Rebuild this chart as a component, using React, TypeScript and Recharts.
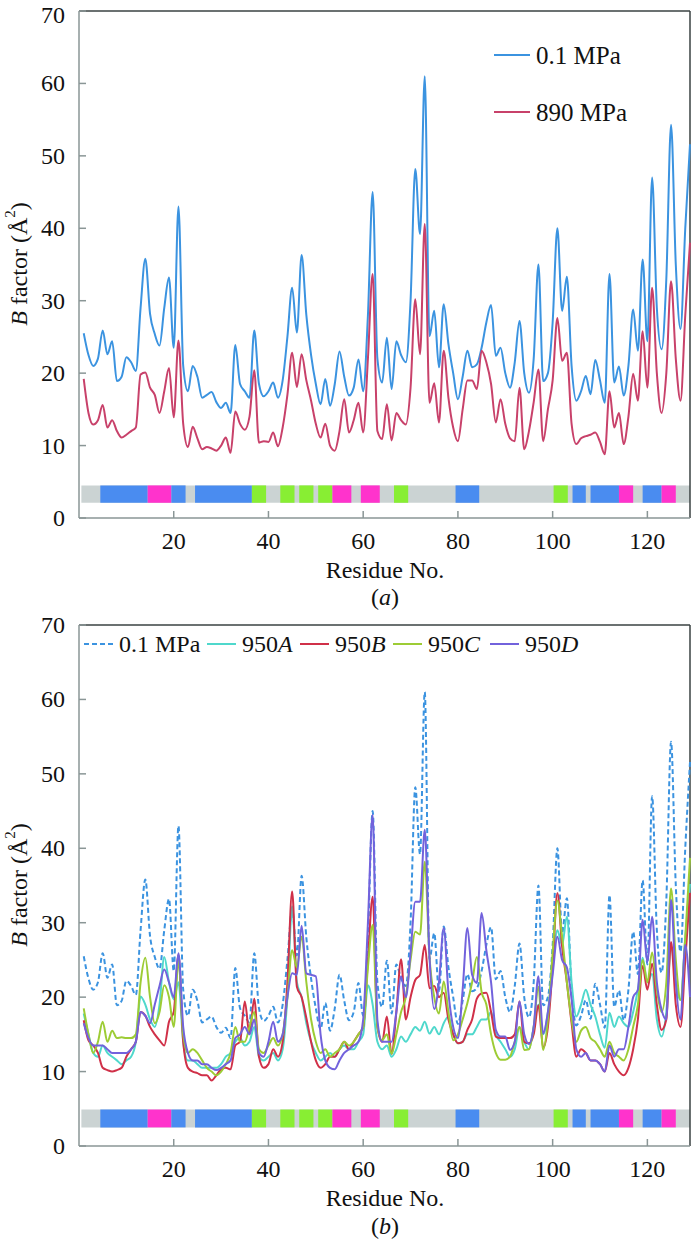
import React from 'react'
import { LineChart, Line, XAxis, YAxis, ReferenceArea, ReferenceLine } from 'recharts'

const FONT = '"Liberation Serif", "Times New Roman", serif'

// B factors per residue 1..129
const bAmbient = [
  25.5, 22.5, 21, 22, 25.9, 22.6, 24.4, 18.9, 19.5, 22.2,
  21.5, 20.3, 29, 35.8, 28.2, 25.4, 23.8, 29, 33.2, 23.5,
  43, 21, 17.5, 21, 19.5, 16.6, 17, 17.4, 16, 15.2,
  15.9, 14.5, 23.9, 18.5, 17.5, 16.6, 25.9, 18.5, 16.8, 17.5,
  18.7, 16.6, 19, 25, 31.8, 25.6, 36.3, 28, 22.5, 18.5,
  15.7, 19.2, 15.5, 18.5, 23, 19.5, 16.9, 18, 21.9, 17.5,
  28, 45, 22, 18.7, 24.9, 17.8, 24.4, 22.5, 21.5, 30,
  48.2, 39.2, 61, 25.1, 28.6, 20.8, 29.5, 24, 20, 16.4,
  19.5, 23.1, 20.8, 21.2, 23.5, 27, 29.4, 22.4, 23.5, 20,
  18, 21.5, 27.2, 20, 17.3, 22, 35, 18.9, 20, 27,
  40, 28.6, 33.3, 21, 16.2, 17.5, 19.6, 17.1, 21.8, 19,
  15.9, 33.7, 18.7, 20.9, 16.9, 21, 28.8, 23.1, 35.7, 24.4,
  47, 29, 23.3, 33, 54.3, 35, 26.1, 40, 51.6,
]

const b890 = [
  19.2, 14.5, 12.9, 13.5, 15.6, 12.5, 13.5, 12, 11.1, 11.5,
  12, 12.5, 19.8, 20.1, 18, 17, 14.5, 17.5, 20.7, 13.9,
  24.5, 13, 9.8, 12.6, 11, 9.5, 9.8, 9.6, 9.3, 10,
  11.1, 9, 14.7, 13, 12.2, 14, 20.4, 10.4, 10.6, 10.5,
  11.8, 9.9, 12.5, 17, 22.8, 18.1, 22.6, 19, 16.2, 13,
  11.1, 13, 10, 9.3, 12, 16.4, 11.8, 13.5, 15.9, 11.8,
  22, 33.7, 12, 10.9, 15.7, 10.7, 14.5, 13.5, 12.9, 18,
  30.2, 22.6, 40.6, 15.9, 18.6, 13.2, 23.1, 16.6, 12.5, 10.6,
  15, 19, 19, 17.8, 23.1, 21.5, 18.5, 13.2, 16.4, 13,
  11, 10.6, 18, 9.5, 12, 16, 20.5, 10.6, 15, 19,
  27.6, 21.7, 22.8, 13, 10.2, 11, 11.3, 11.5, 11.8, 10.5,
  8.8, 17.5, 12.5, 14.5, 10.2, 14, 19.9, 16.2, 25.8, 18,
  31.8, 20, 14.5, 20, 32.7, 22, 16.2, 28, 38,
]

const b950A = [
  17.8, 15, 12.5, 12, 13.5, 12.5, 12, 11.5, 11, 11.5,
  12, 14, 20.1, 19, 17, 16, 19, 25.4, 22, 19.7,
  22, 14, 11.5, 11.5, 11, 10.5, 10.5, 10.5, 10.5, 11,
  12, 12.5, 14, 14.5, 13.5, 14, 16, 12, 11.5, 12,
  12.5, 11.5, 13, 20, 32.2, 22, 20, 16.5, 14, 12.5,
  11.5, 12, 12.5, 12, 13, 13.5, 13, 13, 14, 15,
  21.6, 19, 14, 13, 13.5, 12, 13, 14.7, 14, 15,
  16, 15.5, 16.7, 15.1, 16, 15, 16.5, 17.4, 15, 13.8,
  14, 15, 15, 16, 17, 17, 18, 15, 14, 13,
  12, 13, 16, 14, 13, 16, 19, 15, 18, 24,
  29, 27, 30.8, 22, 17.4, 19, 21, 19, 17.4, 15,
  13.2, 17.9, 16, 17.4, 16.5, 16, 18, 21, 25.3, 22,
  23.1, 17, 14.7, 18, 26.8, 22, 19.6, 28, 35.2,
]

const b950B = [
  16.9, 14.2, 13.5, 12.5, 10.5, 10.2, 10, 10.2, 10.5, 12,
  13, 14, 18, 17.5, 16, 15, 14.2, 13.5, 16.7, 18,
  25.7, 14, 10.5, 10, 9.8, 9.5, 9.5, 8.8, 9.5, 10.3,
  10.5, 10.3, 13.5, 14, 19.4, 15, 19.8, 12, 10.5, 11,
  13, 12, 14, 22, 34.2, 21.4, 20, 17.2, 14, 11.5,
  10.5, 11, 12, 12, 13, 14, 13, 14, 15, 16,
  25, 33.5, 16, 14, 17.4, 12.4, 18, 25.1, 17, 20,
  22.3, 23, 27, 21.2, 21.5, 20, 20.6, 17, 15, 13.8,
  14, 15.6, 17, 19.8, 20.5, 20.6, 18, 14.7, 14.5, 14.5,
  14.5, 15, 19.4, 14, 13.8, 15, 18.9, 13.2, 16, 24,
  34, 26.8, 22, 16.5, 12, 13, 12.5, 11.5, 11.5, 11,
  10, 12.5, 11, 10, 9.5, 10.5, 13, 17, 24.2, 21,
  24.5, 19, 15.6, 17, 27.4, 19, 16, 25, 34,
]

const b950C = [
  18.5, 15, 12.5, 14, 16.7, 14, 15.5, 14.5, 14.6, 14.5,
  14.5, 15, 22, 25.3, 20, 16.5, 18, 21.6, 20, 16,
  25, 15, 12.5, 13, 12.5, 11.5, 10.5, 10, 9.5, 10,
  11, 12.5, 16, 14, 14, 16, 18, 13, 12.5, 13.5,
  14.5, 13.5, 15, 20, 26.3, 24, 28.1, 22, 17, 14,
  12.5, 13, 12, 12.5, 13, 14, 13.5, 14, 15, 16,
  24, 29.7, 16, 14.2, 15, 12.4, 15, 18, 20, 25,
  28.8, 28.4, 38.2, 25.4, 20, 17.8, 22.1, 18, 14.2, 15,
  17, 19.2, 22, 25.4, 20.7, 19, 15, 12.5, 11.6, 11.6,
  12, 14, 16, 12.9, 13, 16, 21.4, 12.9, 17, 26,
  33, 28.1, 22, 17, 14, 15.5, 16, 14.5, 14, 13,
  12, 14, 12.5, 12, 11.5, 13, 16, 19, 25, 22,
  26, 21, 18, 22, 34.6, 25, 19.6, 28, 38.7,
]

const b950D = [
  16.5, 14.5, 13.5, 13.5, 13.5, 13, 12.5, 12.5, 12.5, 12.5,
  13, 14, 18, 17.5, 16.5, 19, 21.5, 23.7, 22, 20,
  25.9, 16, 12.5, 11.5, 11.5, 11, 11, 10.5, 10.2, 10.5,
  11, 11.5, 14.5, 15, 16, 15, 17, 12.5, 12, 14,
  16.7, 14, 15, 20, 23.2, 23, 29.6, 23.2, 23, 22.8,
  15, 11.5, 10.5, 10.3, 11.5, 12.5, 13, 13.5, 14, 17,
  30, 44.5, 16.9, 14, 14, 14, 18, 22.8, 20, 26,
  32.8, 32.8, 42.5, 25.4, 18.4, 22, 29.3, 20.6, 16, 14.5,
  21, 29.3, 23, 21.9, 31.3, 26.3, 22, 15.6, 14.7, 14.7,
  12.9, 14, 19.4, 15, 13.7, 16, 22.8, 15.1, 18, 23,
  28.1, 25, 24, 19.7, 13, 12, 12.5, 11.5, 11.5, 11,
  10, 13.5, 12, 13, 13, 16, 20, 21, 30.4, 24.7,
  30.8, 22, 18.3, 17, 33.1, 22, 17, 27, 20,
]

const xTicks = [20, 40, 60, 80, 100, 120]
const yTicks = [0, 10, 20, 30, 40, 50, 60, 70]

// secondary structure strip: [from residue, to residue, kind]
const ssSegments: [number, number, string][] = [
  [4.5, 14.5, 'alpha'],
  [14.5, 19.5, 'three10'],
  [19.5, 22.5, 'alpha'],
  [24.5, 36.5, 'alpha'],
  [36.5, 39.5, 'beta'],
  [42.5, 45.5, 'beta'],
  [46.5, 49.5, 'beta'],
  [50.5, 53.5, 'beta'],
  [53.5, 57.5, 'three10'],
  [59.5, 63.5, 'three10'],
  [66.5, 69.5, 'beta'],
  [79.5, 84.5, 'alpha'],
  [100.2, 103.2, 'beta'],
  [104.2, 107, 'alpha'],
  [108, 114, 'alpha'],
  [114, 117, 'three10'],
  [119, 123, 'alpha'],
  [123, 126, 'three10'],
]
const ssColors: Record<string, string> = { alpha: '#4a8cf0', three10: '#ff33cc', beta: '#88ee33' }

const residues = bAmbient.map((_, i) => i + 1)
const dataA = residues.map((r, i) => ({ res: r, p01: bAmbient[i], p890: b890[i] }))
const dataB = residues.map((r, i) => ({
  res: r, p01: bAmbient[i], a: b950A[i], b: b950B[i], c: b950C[i], d: b950D[i],
}))

type Series = { key: string; label: string; suffix?: string; color: string; dash?: string }

const BLUE = '#3b93e0'
const seriesA: Series[] = [
  { key: 'p01', label: '0.1 MPa', color: BLUE },
  { key: 'p890', label: '890 MPa', color: '#c8416a' },
]
const seriesB: Series[] = [
  { key: 'p01', label: '0.1 MPa', color: BLUE, dash: '5 3' },
  { key: 'a', label: '950', suffix: 'A', color: '#4fd8cc' },
  { key: 'b', label: '950', suffix: 'B', color: '#d03048' },
  { key: 'c', label: '950', suffix: 'C', color: '#9dcc35' },
  { key: 'd', label: '950', suffix: 'D', color: '#7262dc' },
]

const axisGray = '#8a9696'
const frameDark = '#3a4242'
const tickFont = { fill: '#111', fontSize: 24, fontFamily: FONT }

// keep the top label (70) of panel a inside the page
const YTick = (p: any) => (
  <text x={p.x} y={Math.max(p.y, 13)} textAnchor='end' dominantBaseline='central'
    fontSize={24} fontFamily={FONT} fill='#111'>
    {p.payload.value}
  </text>
)

function Panel({ data, series, top, height, margin, band }: {
  data: any[]; series: Series[]; top: number; height: number
  margin: { top: number; right: number; bottom: number; left: number }; band: [number, number]
}) {
  return (
    <div style={{ position: 'absolute', left: 0, top }}>
      <LineChart width={692} height={height} data={data} margin={margin}>
        <XAxis dataKey='res' type='number' domain={[0, 129]} ticks={xTicks} interval={0} height={30}
          axisLine={{ stroke: axisGray, strokeWidth: 1.5 }} tickLine={{ stroke: axisGray, strokeWidth: 1.5 }}
          tickSize={-7} tickMargin={21} tick={tickFont} />
        <YAxis type='number' domain={[0, 70]} ticks={yTicks} interval={0} width={79}
          axisLine={{ stroke: axisGray, strokeWidth: 1.5 }} tickLine={{ stroke: axisGray, strokeWidth: 1.5 }}
          tickSize={-7} tickMargin={21} tick={YTick} />
        <ReferenceLine y={70} stroke={frameDark} strokeWidth={1.5} />
        <ReferenceLine x={129} stroke={frameDark} strokeWidth={1.5} />
        <ReferenceArea x1={0.5} x2={129} y1={band[0]} y2={band[1]} fill='#cbd3d3' fillOpacity={1} stroke='none' />
        {ssSegments.map(([from, to, kind], i) => (
          <ReferenceArea key={i} x1={from} x2={to} y1={band[0]} y2={band[1]}
            fill={ssColors[kind]} fillOpacity={1} stroke='none' />
        ))}
        {series.map(s => (
          <Line key={s.key} dataKey={s.key} type='monotone' stroke={s.color} strokeWidth={2}
            strokeDasharray={s.dash} dot={false} activeDot={false} isAnimationActive={false} />
        ))}
      </LineChart>
    </div>
  )
}

function LegendItem({ s, x, y, len, size }: { s: Series; x: number; y: number; len: number; size: number }) {
  return (
    <g>
      <line x1={x} x2={x + len} y1={y} y2={y} stroke={s.color} strokeWidth={2} strokeDasharray={s.dash} />
      <text x={x + len + 6} y={y} dominantBaseline='central' fontSize={size} fontFamily={FONT} fill='#111'>
        {s.label}
        {s.suffix && <tspan fontStyle='italic'>{s.suffix}</tspan>}
      </text>
    </g>
  )
}

function YTitle({ cx, cy }: { cx: number; cy: number }) {
  return (
    <text x={cx} y={cy} transform={`rotate(-90 ${cx} ${cy})`} textAnchor='middle' dominantBaseline='central'
      fontSize={24} fontFamily={FONT} fill='#111'>
      <tspan fontStyle='italic'>B</tspan> factor (Å<tspan dy={-9} fontSize={15}>2</tspan><tspan dy={9}>)</tspan>
    </text>
  )
}

function Caption({ cx, cy, letter }: { cx: number; cy: number; letter: string }) {
  return (
    <text x={cx} y={cy} textAnchor='middle' dominantBaseline='central' fontSize={24} fontFamily={FONT} fill='#111'>
      (<tspan fontStyle='italic'>{letter}</tspan>)
    </text>
  )
}

const legendBX = [84, 207, 300, 393, 490]

export default function App() {
  return (
    <div style={{ position: 'absolute', left: 0, top: 0, width: 692, height: 1239, background: '#fff' }}>
      <Panel data={dataA} series={seriesA} top={2} height={558}
        margin={{ top: 9, right: 2, bottom: 12, left: 0 }} band={[2.1, 4.5]} />
      <Panel data={dataB} series={seriesB} top={600} height={600}
        margin={{ top: 25, right: 2, bottom: 24, left: 0 }} band={[2.5, 4.9]} />
      <svg width={692} height={1239} style={{ position: 'absolute', left: 0, top: 0, pointerEvents: 'none' }}>
        {seriesA.map((s, i) => <LegendItem key={s.key} s={s} x={494} y={55 + i * 57} len={36} size={25} />)}
        {seriesB.map((s, i) => <LegendItem key={s.key} s={s} x={legendBX[i]} y={644} len={29} size={24} />)}
        <YTitle cx={19} cy={264} />
        <YTitle cx={19} cy={885} />
        <text x={385} y={570} textAnchor='middle' dominantBaseline='central' fontSize={24} fontFamily={FONT} fill='#111'>Residue No.</text>
        <Caption cx={385} cy={597} letter='a' />
        <text x={385} y={1198} textAnchor='middle' dominantBaseline='central' fontSize={24} fontFamily={FONT} fill='#111'>Residue No.</text>
        <Caption cx={385} cy={1226} letter='b' />
      </svg>
    </div>
  )
}
